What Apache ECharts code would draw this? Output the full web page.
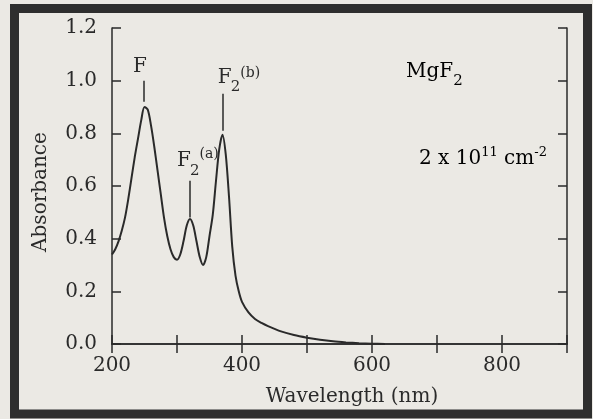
<!DOCTYPE html>
<html lang="en">
<head>
<meta charset="UTF-8">
<title>MgF2 absorbance</title>
<style>body{margin:0;background:#ebe9e4;}</style>
</head>
<body>
<div id="chart" style="width:593px;height:419px;"></div>
<script src="https://cdn.jsdelivr.net/npm/echarts@6/dist/echarts.min.js"></script>
<script>
// spectrum
var wavelength = [200, 205, 210, 215, 220, 225, 230, 235, 240, 245, 250, 255, 260, 265, 270, 275, 280, 285, 290, 295,
	300, 305, 310, 315, 320, 325, 330, 335, 340, 345, 350, 355, 360, 365, 370, 375, 380, 385, 390, 395,
	400, 410, 420, 430, 440, 460, 480, 500, 520, 540, 560, 580, 600, 620];
var absorbance = [0.34, 0.36, 0.39, 0.43, 0.48, 0.55, 0.63, 0.71, 0.78, 0.85, 0.90, 0.89, 0.83, 0.75, 0.66, 0.57, 0.48, 0.41, 0.36, 0.33,
	0.32, 0.34, 0.39, 0.45, 0.475, 0.45, 0.39, 0.33, 0.30, 0.33, 0.41, 0.49, 0.62, 0.74, 0.795, 0.72, 0.56, 0.37, 0.26, 0.20,
	0.16, 0.12, 0.095, 0.08, 0.068, 0.048, 0.034, 0.024, 0.016, 0.010, 0.006, 0.003, 0.001, 0];

// band markers
var bandLabels = ['{m|F}', '{f|F}{s|2}{pa|(a)}', '{f|F}{s|2}{pb|(b)}'];
var bandX = [249, 319, 370];
var bandLow = [0.92, 0.48, 0.81];
var bandHigh = [1.0, 0.62, 0.95];
var bandOffset = [[-4, 3.5], [9, -2.5], [17, 0.5]];

var xLabels = [200, 400, 600, 800];

var font = 'DejaVu Serif';
var ink = '#2a2a2a';
var bg = '#ebe9e4';

var rich = {
	m: {fontFamily: font, fontSize: 20, lineHeight: 34, color: ink, verticalAlign: 'middle'},
	f: {fontFamily: font, fontSize: 20, lineHeight: 34, color: ink, verticalAlign: 'middle', width: 12},
	s: {fontFamily: font, fontSize: 15, lineHeight: 15, color: ink, verticalAlign: 'bottom'},
	pa: {fontFamily: font, fontSize: 14, color: ink, verticalAlign: 'top', padding: [3, 0, 0, 0]},
	pb: {fontFamily: font, fontSize: 14, color: ink, verticalAlign: 'top', padding: [6, 0, 0, 0]},
	q: {fontFamily: font, fontSize: 13, color: ink, verticalAlign: 'top', padding: [5, 0, 0, 0]}
};

var points = wavelength.map(function (w, i) { return [w, absorbance[i]]; });

var bandLines = bandX.map(function (x, i) {
	return [
		{coord: [x, bandLow[i]], label: {formatter: bandLabels[i], offset: bandOffset[i]}},
		{coord: [x, bandHigh[i]]}
	];
});

var myChart = echarts.init(document.getElementById('chart'));

function tickAxis(pos) {
	return {
		axisLine: {show: true, lineStyle: {color: ink, width: 1.5}},
		axisTick: {show: true, inside: true, length: 9, lineStyle: {color: ink, width: 1.5}},
		splitLine: {show: false},
		position: pos
	};
}

var xBottom = Object.assign(tickAxis('bottom'), {
	type: 'value', min: 200, max: 900, interval: 100,
	name: 'Wavelength (nm)', nameLocation: 'middle', nameGap: 43,
	nameTextStyle: {fontFamily: font, fontSize: 20, color: ink, padding: [0, 0, 0, 25]},
	axisLabel: {
		margin: 12, fontFamily: font, fontSize: 20, color: ink,
		formatter: function (v) { return xLabels.indexOf(v) >= 0 ? String(v) : ''; }
	}
});
var xTop = Object.assign(tickAxis('top'), {
	type: 'value', min: 200, max: 900, interval: 100, axisLabel: {show: false}
});
var yLeft = Object.assign(tickAxis('left'), {
	type: 'value', min: 0, max: 1.2, interval: 0.2,
	name: 'Absorbance', nameLocation: 'middle', nameGap: 61,
	nameTextStyle: {fontFamily: font, fontSize: 20, color: ink, padding: [0, 12, 0, 0]},
	axisLabel: {
		margin: 15, fontFamily: font, fontSize: 20, color: ink,
		formatter: function (v) { return v.toFixed(1); }
	}
});
var yRight = Object.assign(tickAxis('right'), {
	type: 'value', min: 0, max: 1.2, interval: 0.2, axisLabel: {show: false}
});

var option = {
	backgroundColor: bg,
	animation: false,
	grid: {left: 112, top: 28, right: 26, bottom: 75},
	xAxis: [xBottom, xTop],
	yAxis: [yLeft, yRight],
	series: [{
		type: 'line',
		data: points,
		smooth: 0.3,
		symbol: 'none',
		lineStyle: {color: ink, width: 2},
		markLine: {
			silent: true,
			symbol: ['none', 'none'],
			lineStyle: {color: ink, width: 1.5, type: 'solid'},
			label: {show: true, position: 'end', distance: 0, rich: rich},
			data: bandLines
		}
	}],
	graphic: [
		{
			type: 'rect',
			shape: {x: 14.5, y: 8.5, width: 573, height: 405.5},
			style: {fill: 'none', stroke: '#2e2e2e', lineWidth: 9}
		},
		{
			type: 'text', x: 406, y: 54.5,
			style: {text: '{m|MgF}{s|2}', rich: rich}
		},
		{
			type: 'text', x: 419, y: 141.5,
			style: {text: '{m|2 x 10}{q|11}{m| cm}{q|-2}', rich: rich}
		}
	]
};
myChart.setOption(option);
</script>
</body>
</html>
